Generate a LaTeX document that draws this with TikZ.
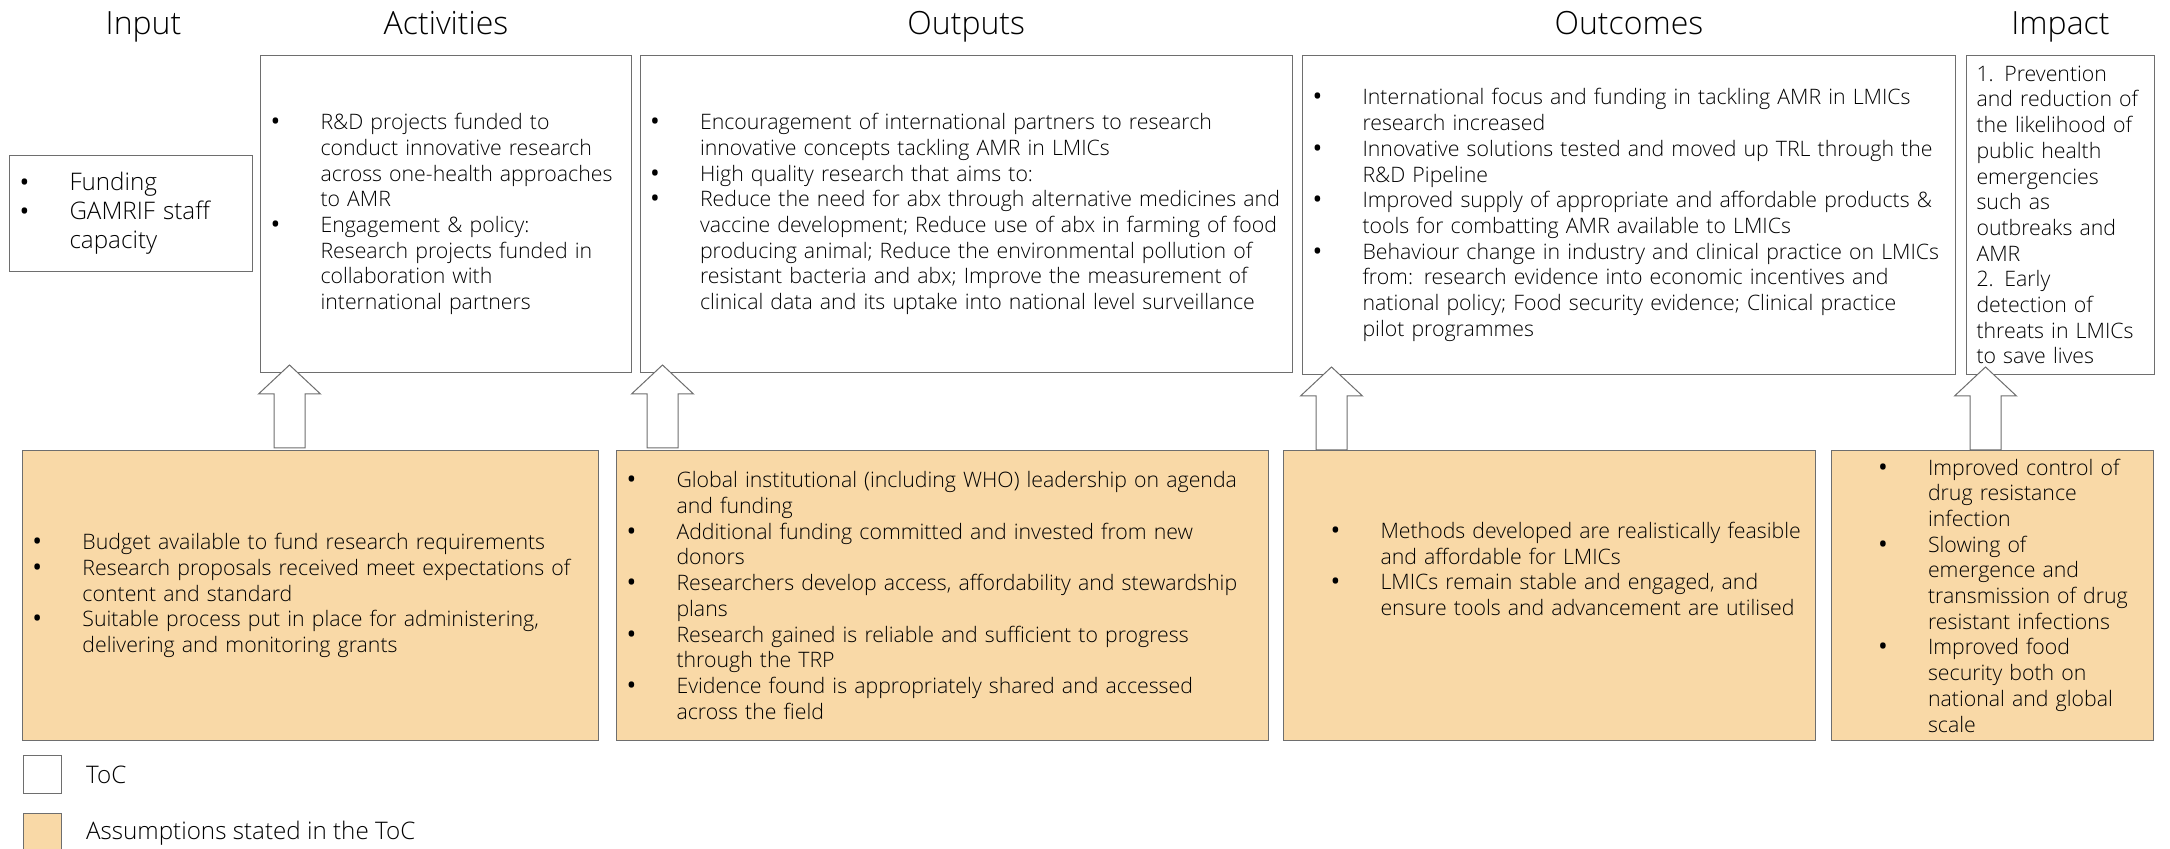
\documentclass[tikz,border=0pt]{standalone}
\usepackage{fontspec}
\setmainfont{Open Sans Light}
\newfontfamily\dotfont{Open Sans}
\usetikzlibrary{positioning,calc}

\definecolor{asmfill}{RGB}{249,217,167}
\definecolor{boxline}{RGB}{110,110,110}

% bullet and hanging indent for the list lines
\newlength{\listshift}
\newcommand{\bul}{\hspace*{\listshift}\makebox[25pt][l]{\raisebox{-0.5pt}{\dotfont\fontsize{13}{13}\selectfont\textbullet}}}
\newcommand{\ind}{\hspace*{\dimexpr\listshift+25pt\relax}}

\begin{document}
\begin{tikzpicture}[x=0.5pt,y=-0.5pt,font=\fontsize{10.65}{12.85}\selectfont]

	\tikzstyle{toc}=[draw=boxline,line width=0.5pt,fill=white,anchor=north west,align=left,inner xsep=5pt,inner ysep=0pt]
	\tikzstyle{asm}=[toc,fill=asmfill]
	\tikzstyle{head}=[anchor=base,font=\fontsize{16}{19}\selectfont]
	\tikzstyle{up}=[draw=boxline,line width=0.5pt,fill=white,line join=miter]
	\tikzstyle{key}=[inner sep=0pt,font=\fontsize{12.1}{15}\selectfont]

	\useasboundingbox (0,0) rectangle (2170,849);

	% theory of change chain
	\node[toc,text width=111.5pt,minimum height=58pt,font=\fontsize{12.1}{14.5}\selectfont] (inp) at (9,155)
		{\bul Funding\\
		 \bul GAMRIF staff\\
		 \ind capacity};
	\node[toc,text width=175.5pt,minimum height=158.5pt] (act) at (260,55)
		{\bul R\&D projects funded to\\
		 \ind conduct innovative research\\
		 \ind across one-health approaches\\
		 \ind to AMR\\
		 \bul Engagement \& policy:\\
		 \ind Research projects funded in\\
		 \ind collaboration with\\
		 \ind international partners};
	\node[toc,text width=316.25pt,minimum height=158.5pt] (outp) at (639.5,55)
		{\bul Encouragement of international partners to research\\
		 \ind innovative concepts tackling AMR in LMICs\\
		 \bul High quality research that aims to:\\
		 \bul Reduce the need for abx through alternative medicines and\\
		 \ind vaccine development; Reduce use of abx in farming of food\\
		 \ind producing animal; Reduce the environmental pollution of\\
		 \ind resistant bacteria and abx; Improve the measurement of\\
		 \ind clinical data and its uptake into national level surveillance};
	\node[toc,text width=316.5pt,minimum height=159.5pt] (outc) at (1302,55)
		{\bul International focus and funding in tackling AMR in LMICs\\
		 \ind research increased\\
		 \bul Innovative solutions tested and moved up TRL through the\\
		 \ind R\&D Pipeline\\
		 \bul Improved supply of appropriate and affordable products \&\\
		 \ind tools for combatting AMR available to LMICs\\
		 \bul Behaviour change in industry and clinical practice on LMICs\\
		 \ind from: research evidence into economic incentives and\\
		 \ind national policy; Food security evidence; Clinical practice\\
		 \ind pilot programmes};
	\node[toc,text width=84pt,minimum height=159.5pt] (imp) at (1966,55)
		{1. Prevention\\
		 and reduction of\\
		 the likelihood of\\
		 public health\\
		 emergencies\\
		 such as\\
		 outbreaks and\\
		 AMR\\
		 2. Early\\
		 detection of\\
		 threats in LMICs\\
		 to save lives};

	% column headings
	\coordinate (ttl) at (0,35);
	\node[head] at (143.5,35) {Input};
	\node[head] at (act.north |- ttl) {Activities};
	\node[head] at (outp.north |- ttl) {Outputs};
	\node[head] at (outc.north |- ttl) {Outcomes};
	\node[head] at (imp.north |- ttl) {Impact};

	% assumptions
	\node[asm,text width=278pt,minimum height=145pt] (as1) at (22,450)
		{\bul Budget available to fund research requirements\\
		 \bul Research proposals received meet expectations of\\
		 \ind content and standard\\
		 \bul Suitable process put in place for administering,\\
		 \ind delivering and monitoring grants};
	\node[asm,text width=316pt,minimum height=145pt] (as2) at (616,450)
		{\bul Global institutional (including WHO) leadership on agenda\\
		 \ind and funding\\
		 \bul Additional funding committed and invested from new\\
		 \ind donors\\
		 \bul Researchers develop access, affordability and stewardship\\
		 \ind plans\\
		 \bul Research gained is reliable and sufficient to progress\\
		 \ind through the TRP\\
		 \bul Evidence found is appropriately shared and accessed\\
		 \ind across the field};
	\node[asm,text width=256pt,minimum height=145pt] (as3) at (1283,450)
		{\setlength{\listshift}{18.5pt}%
		 \bul Methods developed are realistically feasible\\
		 \ind and affordable for LMICs\\
		 \bul LMICs remain stable and engaged, and\\
		 \ind ensure tools and advancement are utilised\\[10pt]
		 \strut};
	\node[asm,text width=151.25pt,minimum height=145pt] (as4) at (1830.5,450)
		{\setlength{\listshift}{18.5pt}%
		 \bul Improved control of\\
		 \ind drug resistance\\
		 \ind infection\\
		 \bul Slowing of\\
		 \ind emergence and\\
		 \ind transmission of drug\\
		 \ind resistant infections\\
		 \bul Improved food\\
		 \ind security both on\\
		 \ind national and global\\
		 \ind scale};

	% block arrows from assumptions up to the chain
	\foreach \n/\dx in {act/29.5,outp/23,outc/29.5,imp/19.5}
		\draw[up] ($(\n.south west)+(\dx,-8)$) -- ++(31,29) -- ++(-15.5,0) -- ++(0,54)
			-- ++(-31,0) -- ++(0,-54) -- ++(-15.5,0) -- cycle;

	% key
	\node[toc,minimum width=19pt,minimum height=19pt,inner sep=0pt] (keytoc) at (22.7,755) {};
	\node[key,right=12pt of keytoc] (keytoctxt) {ToC};
	\node[asm,minimum width=19pt,minimum height=20pt,inner sep=0pt] (keyasm) at (22.7,812.7) {};
	\node[key,right=12pt of keyasm] (keyasmtxt) {Assumptions stated in the ToC};
\end{tikzpicture}
\end{document}
